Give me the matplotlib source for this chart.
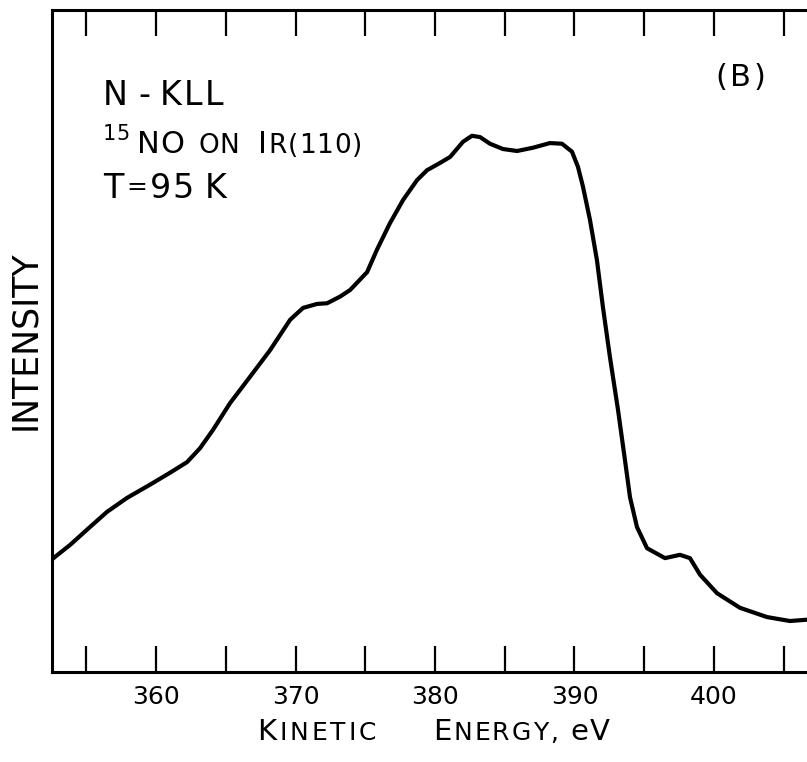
import matplotlib
matplotlib.use("Agg")
import matplotlib.pyplot as plt

# N-KLL Auger spectrum of 15NO on Ir(110)
# (intensity in arbitrary units, 0 = bottom of frame, 100 = top)
energy = [352.54, 352.76, 353.84, 355.05, 356.49, 357.92, 359.57, 361.00, 362.22,
          363.15, 364.09, 365.30, 366.74, 368.17, 369.61, 370.54, 371.54, 372.26,
          373.19, 373.91, 375.13, 375.84, 376.77, 377.71, 378.71, 379.43, 380.36,
          381.08, 382.01, 382.65, 383.23, 383.94, 384.87, 385.88, 387.03, 388.24,
          389.10, 389.82, 390.25, 390.61, 391.11, 391.61, 392.04, 392.54, 393.12,
          393.62, 393.98, 394.48, 395.20, 396.49, 397.56, 398.28, 399.00, 400.22,
          401.86, 403.80, 405.45, 406.67]
intensity = [17.0, 17.4, 19.2, 21.5, 24.2, 26.3, 28.3, 30.1, 31.7,
             33.8, 36.6, 40.6, 44.6, 48.6, 53.2, 55.0, 55.6, 55.7,
             56.7, 57.7, 60.4, 63.8, 67.8, 71.3, 74.3, 75.8, 76.9,
             77.8, 80.1, 81.0, 80.8, 79.8, 79.0, 78.7, 79.2, 79.9,
             79.8, 78.6, 76.3, 73.3, 68.3, 62.2, 55.1, 47.6, 39.6,
             32.0, 26.4, 21.9, 18.7, 17.2, 17.7, 17.2, 14.7, 11.9,
             9.7, 8.3, 7.7, 7.9]

tick_pos = [355, 360, 365, 370, 375, 380, 385, 390, 395, 400, 405]
tick_labels = ["", "360", "", "370", "", "380", "", "390", "", "400", ""]

W, H = 807, 762
fig = plt.figure(figsize=(W / 100, H / 100), dpi=100)
ax = fig.add_axes([52 / W, 1 - 672 / H, 1 - 52 / W, (672 - 10) / H])

ax.plot(energy, intensity, color="black", lw=3, solid_joinstyle="round", solid_capstyle="round")
ax.set_xlim(352.54, 406.67)
ax.set_ylim(0, 100)

ax.spines["right"].set_visible(False)
for s in ["left", "top", "bottom"]:
    ax.spines[s].set_linewidth(2.2)
ax.set_yticks([])
ax.set_xticks(tick_pos)
ax.set_xticklabels(tick_labels)
ax.tick_params(axis="x", direction="in", length=19, width=1.6, top=True,
               labelsize=18, pad=9)


def px(x, y):
    return x / W, 1 - y / H


r = fig.canvas.get_renderer()


def sc_text(x, y, parts, tr=0):
    # lettering drawn char by char: (text, size[, raise]) pieces, numbers = gaps in px
    for p in parts:
        if isinstance(p, (int, float)):
            x += p
            continue
        s, size = p[0], p[1]
        dy = p[2] if len(p) > 2 else 0
        for ch in s:
            t = fig.text(*px(x, y - dy), ch, fontsize=size, va="baseline", ha="left")
            x += t.get_window_extent(r).width + tr


# axis labels (small caps)
sc_text(257, 740, [("K", 21), ("INETIC", 18)], tr=3)
sc_text(433, 740, [("E", 21), ("NERGY,", 18)], tr=2)
sc_text(570, 740, [("e", 21), ("V", 21)], tr=2)
fig.text(*px(35, 340), "INTENSITY", fontsize=25, rotation=90, rotation_mode="anchor",
         ha="center", va="baseline")

# annotations
sc_text(103, 105, [("N", 24), 8, ("-", 24), 8, ("KLL", 24)], tr=2)
sc_text(103, 140, [("15", 15)])
sc_text(137, 153, [("NO", 22)], tr=1)
sc_text(198, 153, [("ON", 19)], tr=1)
sc_text(258, 153, [("I", 22), ("R(110)", 19)], tr=1)
sc_text(103, 198, [("T", 24), 2, ("=", 18, 4), 2, ("95", 24), 10, ("K", 24)], tr=1)
sc_text(715, 86, [("(", 22), 3, ("B", 22), 3, (")", 22)])

fig.savefig("out.png", dpi=100)
